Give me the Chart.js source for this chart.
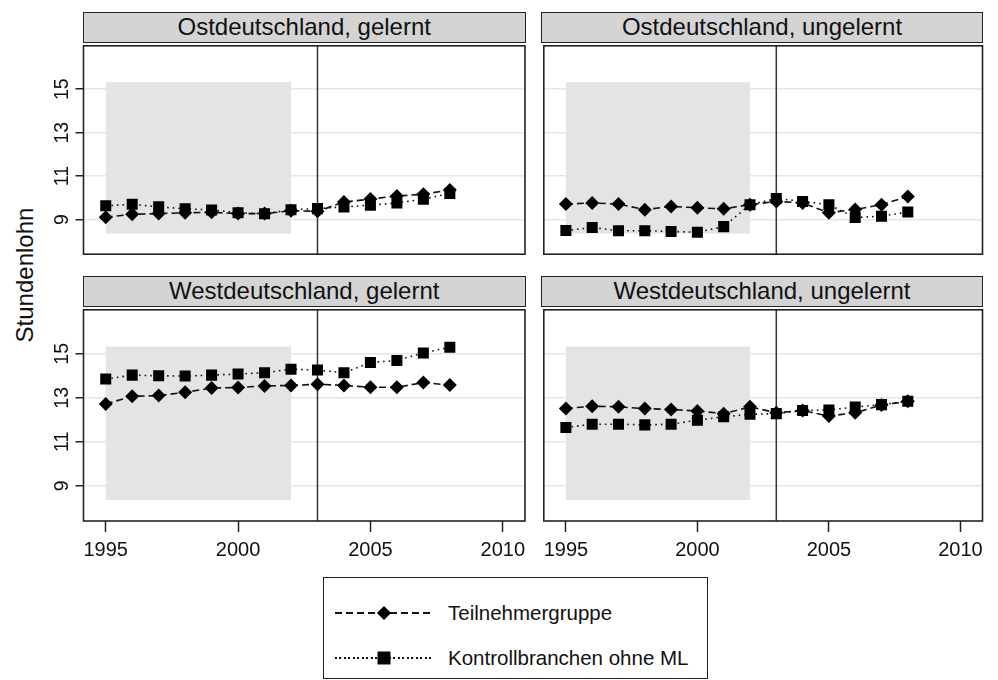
<!DOCTYPE html>
<html>
<head>
<meta charset="utf-8">
<script src="https://cdn.jsdelivr.net/npm/chart.js@4/dist/chart.umd.min.js"></script>
<style>
  body { margin:0; background:#fff; font-family:'Liberation Sans', Arial, sans-serif; }
  #fig { position:relative; width:998px; height:680px; overflow:hidden; }
  .panel { position:absolute; }
  .strip { position:absolute; box-sizing:border-box; background:#d4d4d4; border:1.5px solid #222;
    text-align:center; font-size:24px; color:#111; line-height:28px; }
  .ylab { position:absolute; left:25px; top:275px; transform:translate(-50%,-50%) rotate(-90deg);
    font-size:24px; color:#111; white-space:nowrap; }
  .legend { position:absolute; left:323px; top:577px; width:385px; height:102px; box-sizing:border-box;
    border:1.5px solid #222; }
  .row { position:absolute; left:11px; height:26px; display:flex; align-items:center; font-size:20.5px; color:#111; }
  .sample { position:relative; width:98px; height:2px; margin-right:15px; }
  .sample.dash { background:repeating-linear-gradient(90deg, #111 0 7px, transparent 7px 11px); }
  .sample.dot { background:repeating-linear-gradient(90deg, #111 0 1.6px, transparent 1.6px 4.5px); }
  .sample i { position:absolute; left:50%; top:50%; background:#000; }
  .sample.dash i { width:10px; height:10px; transform:translate(-50%,-50%) rotate(45deg); }
  .sample.dot i { width:13px; height:13px; transform:translate(-50%,-50%); }
</style>
</head>
<body>
<div id="fig">
  <div class="ylab">Stundenlohn</div>
  <div class="legend" id="legend"></div>
</div>
<script>
const years = [1995, 1996, 1997, 1998, 1999, 2000, 2001, 2002, 2003, 2004, 2005, 2006, 2007, 2008];
const xTicks = [1995, 2000, 2005, 2010];
const yTicks = [9, 11, 13, 15];
const seriesNames = ['Teilnehmergruppe', 'Kontrollbranchen ohne ML'];

// hourly wages
const ostGelTeil   = [9.10, 9.24, 9.27, 9.31, 9.33, 9.27, 9.27, 9.40, 9.38, 9.80, 9.94, 10.08, 10.16, 10.36];
const ostGelKontr  = [9.63, 9.70, 9.58, 9.49, 9.44, 9.31, 9.26, 9.45, 9.50, 9.58, 9.66, 9.76, 9.93, 10.20];
const ostUngTeil   = [9.71, 9.76, 9.71, 9.45, 9.60, 9.54, 9.49, 9.68, 9.83, 9.76, 9.31, 9.46, 9.68, 10.06];
const ostUngKontr  = [8.49, 8.63, 8.48, 8.48, 8.45, 8.41, 8.67, 9.68, 9.97, 9.83, 9.68, 9.09, 9.15, 9.34];
const westGelTeil  = [12.72, 13.07, 13.10, 13.25, 13.44, 13.47, 13.54, 13.56, 13.62, 13.56, 13.48, 13.48, 13.69, 13.58];
const westGelKontr = [13.85, 14.03, 14.00, 13.99, 14.03, 14.08, 14.14, 14.30, 14.26, 14.14, 14.60, 14.70, 15.04, 15.30];
const westUngTeil  = [12.51, 12.62, 12.59, 12.51, 12.47, 12.40, 12.28, 12.59, 12.32, 12.42, 12.17, 12.32, 12.67, 12.84];
const westUngKontr = [11.65, 11.80, 11.80, 11.77, 11.80, 11.98, 12.14, 12.25, 12.28, 12.42, 12.45, 12.58, 12.69, 12.84];

// pre-period window and reform year
const shadeYears = [1995, 2002];
const shadeWage = [8.35, 15.33];
const reformYear = 2003;

const FONT = "'Liberation Sans', Arial, sans-serif";
const xMin = 1994.16, xMax = 2010.84;
const yMin = 7.4, yMax = 17.0;

const panels = [
  { title: 'Ostdeutschland, gelernt',   teil: ostGelTeil,  kontr: ostGelKontr,  left: 40,  top: 38,  leftCol: true,  bottomRow: false },
  { title: 'Ostdeutschland, ungelernt', teil: ostUngTeil,  kontr: ostUngKontr,  left: 536, top: 38,  leftCol: false, bottomRow: false },
  { title: 'Westdeutschland, gelernt',  teil: westGelTeil, kontr: westGelKontr, left: 40,  top: 302, leftCol: true,  bottomRow: true },
  { title: 'Westdeutschland, ungelernt',teil: westUngTeil, kontr: westUngKontr, left: 536, top: 302, leftCol: false, bottomRow: true }
];

const panelPlugin = {
  id: 'panelDeco',
  beforeDatasetsDraw(chart) {
    const { ctx, chartArea: a, scales: { x, y } } = chart;
    ctx.save();
    ctx.fillStyle = '#e4e4e4';
    const x0 = x.getPixelForValue(shadeYears[0]), x1 = x.getPixelForValue(shadeYears[1]);
    const y0 = y.getPixelForValue(shadeWage[1]), y1 = y.getPixelForValue(shadeWage[0]);
    ctx.fillRect(x0, y0, x1 - x0, y1 - y0);
    const xr = x.getPixelForValue(reformYear);
    ctx.strokeStyle = '#333';
    ctx.lineWidth = 1.5;
    ctx.beginPath();
    ctx.moveTo(xr, a.top);
    ctx.lineTo(xr, a.bottom);
    ctx.stroke();
    ctx.restore();
  },
  afterDraw(chart) {
    const { ctx, chartArea: a } = chart;
    ctx.save();
    ctx.strokeStyle = '#222';
    ctx.lineWidth = 1.6;
    ctx.strokeRect(a.left, a.top, a.right - a.left, a.bottom - a.top);
    ctx.restore();
  }
};

function toPoints(vals) {
  return years.map((x, i) => ({ x, y: vals[i] }));
}

// no label overhang padding, the plot box is placed by hand
function noOverhang(s) {
  s.paddingTop = 0; s.paddingBottom = 0; s.paddingLeft = 0; s.paddingRight = 0;
}

function drawPanel(p) {
  const fig = document.getElementById('fig');
  const w = 494, h = p.bottomRow ? 263 : 224;
  const wrap = document.createElement('div');
  wrap.className = 'panel';
  wrap.style.cssText = `left:${p.left}px;top:${p.top}px;width:${w}px;height:${h}px;`;
  wrap.innerHTML = `<canvas width="${w}" height="${h}"></canvas>`;
  fig.appendChild(wrap);

  const plotLeft = p.leftCol ? 83.5 : 541.5;
  const plotRight = p.leftCol ? 525 : 982.5;
  const strip = document.createElement('div');
  strip.className = 'strip';
  strip.textContent = p.title;
  strip.style.cssText = `left:${plotLeft - 0.8}px;top:${p.top - 26}px;width:${plotRight - plotLeft + 1.6}px;height:31px;`;
  fig.appendChild(strip);

  new Chart(wrap.querySelector('canvas'), {
    type: 'line',
    data: {
      datasets: [
        {
          label: seriesNames[0],
          data: toPoints(p.teil),
          borderColor: '#111', borderWidth: 1.6, borderDash: [7, 4],
          pointStyle: 'rectRot', pointRadius: 7, pointBorderWidth: 0,
          pointBackgroundColor: '#000', tension: 0
        },
        {
          label: seriesNames[1],
          data: toPoints(p.kontr),
          borderColor: '#111', borderWidth: 1.6, borderDash: [1.6, 4],
          pointStyle: 'rect', pointRadius: 7.8, pointBorderWidth: 0,
          pointBackgroundColor: '#000', tension: 0
        }
      ]
    },
    options: {
      responsive: false, animation: false, devicePixelRatio: 1,
      layout: { padding: { top: 4, right: w - (plotRight - p.left), bottom: p.bottomRow ? 0 : 5, left: p.leftCol ? 0 : plotLeft - p.left } },
      plugins: { legend: { display: false }, tooltip: { enabled: false } },
      scales: {
        x: {
          type: 'linear', min: xMin, max: xMax, display: p.bottomRow,
          afterBuildTicks: s => { s.ticks = xTicks.map(v => ({ value: v })); },
          afterFit: s => { noOverhang(s); if (p.bottomRow) s.height = 44; },
          grid: { drawOnChartArea: false, drawTicks: true, tickLength: 11, tickColor: '#222', tickWidth: 1.5 },
          border: { display: false },
          ticks: { color: '#111', font: { size: 20, family: FONT }, padding: 6, maxRotation: 0, autoSkip: false,
                   callback: v => String(v) }
        },
        y: {
          type: 'linear', min: yMin, max: yMax,
          afterBuildTicks: s => { s.ticks = yTicks.map(v => ({ value: v })); },
          afterFit: s => { noOverhang(s); s.width = p.leftCol ? 43.5 : 0; },
          grid: { color: '#e6e6e6', lineWidth: 1.5, drawTicks: p.leftCol, tickLength: 8, tickColor: '#222', tickWidth: 1.5 },
          border: { display: false },
          ticks: { display: p.leftCol, color: '#111', font: { size: 19.5, family: FONT }, padding: 2,
                   minRotation: 90, maxRotation: 90, crossAlign: 'center' }
        }
      }
    },
    plugins: [panelPlugin]
  });
}

function renderLegend() {
  const el = document.getElementById('legend');
  const kinds = ['dash', 'dot'];
  el.innerHTML = seriesNames.map((name, i) => `
    <div class="row" style="top:${22 + i * 45}px;">
      <span class="sample ${kinds[i]}"><i></i></span><span>${name}</span>
    </div>
  `).join('');
}

panels.forEach(drawPanel);
renderLegend();
</script>
</body>
</html>
